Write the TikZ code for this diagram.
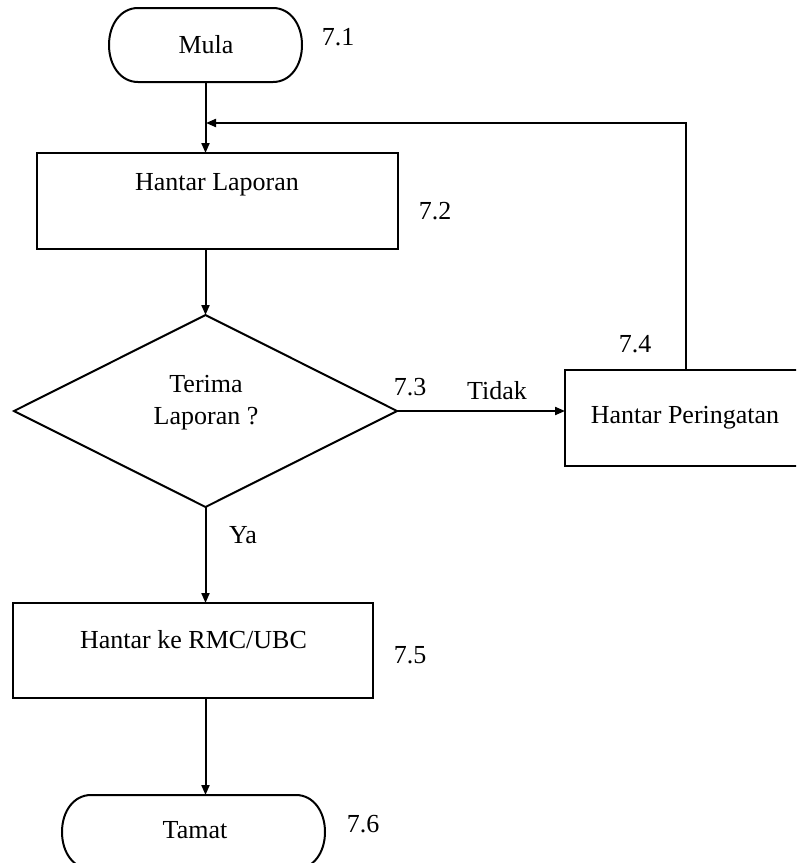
\documentclass[tikz,border=0pt]{standalone}
\usepackage{fontspec}
\setmainfont{Liberation Serif}
\usetikzlibrary{shapes.geometric,arrows.meta,calc}
\begin{document}
\begin{tikzpicture}[x=1pt,y=-1pt,
  line width=2pt,
  font=\fontsize{26}{30}\selectfont,
  arr/.style={-{Triangle[length=10pt,width=8pt]}},
  term/.style={rectangle,minimum width=193pt,minimum height=74pt,inner sep=0pt,outer sep=0pt},
  boxshape/.style={draw,rectangle,inner sep=0pt,outer sep=0pt},
  dec/.style={draw,diamond,minimum width=383pt,minimum height=192pt,inner sep=0pt,outer sep=0pt},
  txt/.style={anchor=base,inner sep=0pt}]
\clip (0,0) rectangle (796,863);
\fill[white] (0,0) rectangle (796,863);
% shapes
\node[term] (mula) at (205.5,45) {};
\node[boxshape,minimum width=361pt,minimum height=96pt] (lap) at (217.5,201) {};
\node[dec] (dia) at (205.5,411) {};
\node[boxshape,minimum width=242pt,minimum height=96pt] (per) at (686,418) {};
\node[boxshape,minimum width=360pt,minimum height=95pt] (rmc) at (193,650.5) {};
\node[term,minimum width=263pt] (tamat) at (193.5,832) {};
% terminal outlines
\foreach \t in {mula,tamat}{
  \draw ($(\t.north west)+(29,0)$) -- ($(\t.north east)+(-29,0)$)
    .. controls +(17,0) and +(0,-21) .. (\t.east)
    .. controls +(0,21) and +(17,0) .. ($(\t.south east)+(-29,0)$)
    -- ($(\t.south west)+(29,0)$)
    .. controls +(-17,0) and +(0,21) .. (\t.west)
    .. controls +(0,-21) and +(-17,0) .. cycle;
}
% texts
\node[txt] (tmula) at (206,53) {Mula};
\node[txt] (n71) at (338,45) {7.1};
\node[txt] (tlap) at (217,190) {Hantar Laporan};
\node[txt] (n72) at (435,219) {7.2};
\node[txt] (tdia1) at (206,392) {Terima};
\node[txt] (tdia2) at (206,424) {Laporan ?};
\node[txt] (n73) at (410,395) {7.3};
\node[txt] (ttidak) at (497,399) {Tidak};
\node[txt] (n74) at (635,352) {7.4};
\node[txt] (tper) at (685,423) {Hantar Peringatan};
\node[txt] (tya) at (243,543) {Ya};
\node[txt] (trmc) at (193.5,648) {Hantar ke RMC/UBC};
\node[txt] (n75) at (410,663) {7.5};
\node[txt] (ttamat) at (195,838) {Tamat};
\node[txt] (n76) at (363,832) {7.6};
% connectors
\coordinate (join) at (206,123);
\draw[arr] (mula.south -| dia.north) -- (dia.north |- lap.north);
\draw[arr] (per.north) |- (join);
\draw[arr] (dia.north |- lap.south) -- (dia.north);
\draw[arr] (dia.east) -- (dia.east -| per.west);
\draw[arr] (dia.south) -- (dia.south |- rmc.north);
\draw[arr] (dia.south |- rmc.south) -- (dia.south |- tamat.north);
\end{tikzpicture}
\end{document}
